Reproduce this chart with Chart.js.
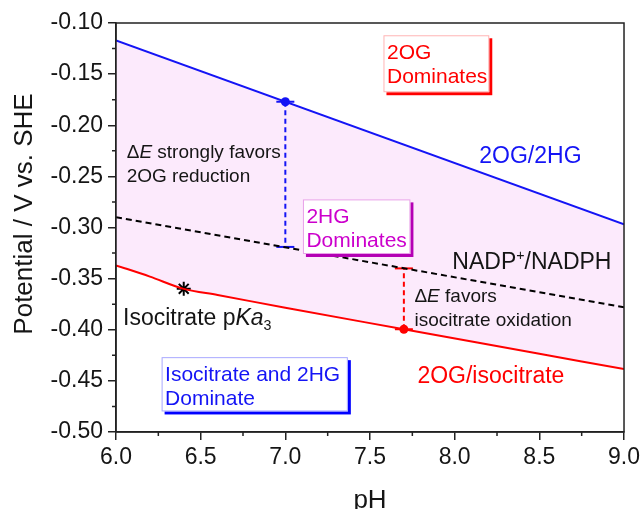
<!DOCTYPE html>
<html><head><meta charset="utf-8">
<script src="https://cdn.jsdelivr.net/npm/chart.js@4/dist/chart.umd.min.js"></script>
<style>html,body{margin:0;padding:0;background:#fff;}canvas{display:block;}</style>
</head><body>
<canvas id="c" width="644" height="509"></canvas>
<script>
// ---- data ----
const blueX = [6.0, 9.0];                 // 2OG/2HG
const blueY = [-0.117, -0.297];
const nadpX = [6.0, 9.0];                 // NADP+/NADPH
const nadpY = [-0.290, -0.378];
const redX = [6.0, 6.2, 6.4, 6.6, 7.0, 7.7, 8.5, 9.0];   // 2OG/isocitrate
const redY = [-0.337, -0.348, -0.360, -0.366, -0.3785, -0.3995, -0.4235, -0.4385];
const barBlueX = [7.0, 7.0];              // ΔE strongly favors 2OG reduction
const barBlueY = [-0.177, -0.319];
const barRedX = [7.7, 7.7];               // ΔE favors isocitrate oxidation
const barRedY = [-0.3995, -0.340];
const pkaX = [6.4];                       // isocitrate pKa3
const pkaY = [-0.360];
const xTickValues = [6.0, 6.5, 7.0, 7.5, 8.0, 8.5, 9.0];
const yTickValues = [-0.50, -0.45, -0.40, -0.35, -0.30, -0.25, -0.20, -0.15, -0.10];
const xMinorTicks = [6.25, 6.75, 7.25, 7.75, 8.25, 8.75];
const yMinorTicks = [-0.475, -0.425, -0.375, -0.325, -0.275, -0.225, -0.175, -0.125];

// ---- styles ----
const FONT = "'Liberation Sans', Arial, Helvetica, sans-serif";
const BLUE = '#1414f5', RED = '#ff0000', INK = '#151515', PINK = 'rgb(252,234,252)';
const pts = (xs, ys) => xs.map((x, i) => ({x: x, y: ys[i]}));

const notes = [
  {x: 8.1453, y: -0.2292, size: 23, color: BLUE, lines: [[{t: '2OG/2HG'}]]},
  {x: 6.0631, y: -0.2260, size: 19, color: INK, lines: [[{t: 'Δ'}, {t: 'E', i: 1}, {t: ' strongly favors'}], [{t: '2OG reduction'}]]},
  {x: 7.9862, y: -0.3324, size: 23, color: INK, lines: [[{t: 'NADP'}, {t: '+', sup: 1}, {t: '/NADPH'}]]},
  {x: 7.7623, y: -0.3659, size: 19, color: INK, lines: [[{t: 'Δ'}, {t: 'E', i: 1}, {t: ' favors'}], [{t: 'isocitrate oxidation'}]]},
  {x: 7.7799, y: -0.4440, size: 23, color: RED, lines: [[{t: '2OG/isocitrate'}]]},
  {x: 6.0413, y: -0.3871, size: 23, color: INK, lines: [[{t: 'Isocitrate p'}, {t: 'Ka', i: 1}, {t: '3', sub: 1}]]}
];
const boxes = [
  {x0: 7.5795, y0: -0.1120, x1: 8.2043, y1: -0.1677, text: ['2OG', 'Dominates'], color: RED, edge: '#ffb4b4', shadow: '#ff0000'},
  {x0: 7.1039, y0: -0.2725, x1: 7.7387, y1: -0.3259, text: ['2HG', 'Dominates'], color: '#cc00cc', edge: '#e8a0e8', shadow: '#b400b4'},
  {x0: 6.2693, y0: -0.4268, x1: 7.3691, y1: -0.4799, text: ['Isocitrate and 2HG', 'Dominate'], color: BLUE, edge: '#a8a8ff', shadow: '#0000ff'}
];

function drawRich(ctx, x, cy, segs, size, color) {
  let cx = x;
  const base = cy + 0.35 * size;
  ctx.fillStyle = color; ctx.textAlign = 'left'; ctx.textBaseline = 'alphabetic';
  for (const s of segs) {
    const small = s.sup || s.sub;
    const fs = small ? size * 0.62 : size;
    ctx.font = (s.i ? 'italic ' : '') + fs + 'px ' + FONT;
    const dy = s.sup ? -0.36 * size : (s.sub ? 0.22 * size : 0);
    ctx.fillText(s.t, cx, base + dy);
    cx += ctx.measureText(s.t).width;
  }
}

const decor = {
  id: 'decor',
  afterDatasetsDraw(chart) {
    const ctx = chart.ctx, xs = chart.scales.x, ys = chart.scales.y;
    ctx.save();
    for (const b of boxes) {
      const l = xs.getPixelForValue(b.x0), r = xs.getPixelForValue(b.x1);
      const t = ys.getPixelForValue(b.y0), btm = ys.getPixelForValue(b.y1);
      ctx.fillStyle = b.shadow; ctx.fillRect(l + 3, t + 3, r - l, btm - t);
      ctx.fillStyle = '#fff'; ctx.fillRect(l, t, r - l, btm - t);
      ctx.strokeStyle = b.edge; ctx.lineWidth = 1; ctx.strokeRect(l + 0.5, t + 0.5, r - l - 1, btm - t - 1);
      b.text.forEach((line, k) => drawRich(ctx, l + 3.5, t + 16 + 24 * k, [{t: line}], 21, b.color));
    }
    for (const n of notes) {
      const px = xs.getPixelForValue(n.x), py = ys.getPixelForValue(n.y);
      n.lines.forEach((segs, k) => drawRich(ctx, px, py + 24 * k, segs, n.size, n.color));
    }
    ctx.restore();
  },
  afterDraw(chart) {
    const ctx = chart.ctx, xs = chart.scales.x, ys = chart.scales.y, a = chart.chartArea;
    ctx.save();
    ctx.strokeStyle = '#222'; ctx.lineWidth = 1.5;
    ctx.beginPath();
    for (const v of xMinorTicks) { const p = xs.getPixelForValue(v); ctx.moveTo(p, a.bottom); ctx.lineTo(p, a.bottom + 4); }
    for (const v of yMinorTicks) { const p = ys.getPixelForValue(v); ctx.moveTo(a.left - 4, p); ctx.lineTo(a.left, p); }
    ctx.stroke();
    ctx.strokeRect(a.left, a.top, a.right - a.left, a.bottom - a.top);
    // y axis title
    ctx.translate(25, ys.getPixelForValue(-0.2868));
    ctx.rotate(-Math.PI / 2);
    ctx.font = '26px ' + FONT; ctx.fillStyle = INK; ctx.textAlign = 'center'; ctx.textBaseline = 'middle';
    ctx.fillText('Potential / V vs. SHE', 0, 0);
    ctx.restore();
  }
};

new Chart(document.getElementById('c'), {
  type: 'line',
  data: {datasets: [
    {label: '2OG/2HG', data: pts(blueX, blueY), borderColor: BLUE, borderWidth: 2, pointRadius: 0,
     backgroundColor: PINK, fill: {target: 2, above: PINK, below: PINK}},
    {label: 'NADP+/NADPH', data: pts(nadpX, nadpY), borderColor: '#000', borderWidth: 2, borderDash: [6, 4], pointRadius: 0, fill: false},
    {label: '2OG/isocitrate', data: pts(redX, redY), borderColor: RED, borderWidth: 2, pointRadius: 0, cubicInterpolationMode: 'monotone', fill: false},
    {label: 'dE blue', data: pts(barBlueX, barBlueY), borderColor: BLUE, borderWidth: 2, borderDash: [5, 3.5], fill: false,
     pointStyle: 'line', pointRadius: 9, pointBorderWidth: 2, pointBorderColor: BLUE},
    {label: 'dot blue', data: pts(barBlueX.slice(0, 1), barBlueY.slice(0, 1)), showLine: false, pointStyle: 'circle',
     pointRadius: 4.5, pointBackgroundColor: BLUE, pointBorderWidth: 0, fill: false},
    {label: 'dE red', data: pts(barRedX, barRedY), borderColor: RED, borderWidth: 2, borderDash: [5, 3.5], fill: false,
     pointStyle: 'line', pointRadius: 9, pointBorderWidth: 2, pointBorderColor: RED},
    {label: 'dot red', data: pts(barRedX.slice(0, 1), barRedY.slice(0, 1)), showLine: false, pointStyle: 'circle',
     pointRadius: 4.5, pointBackgroundColor: RED, pointBorderWidth: 0, fill: false},
    {label: 'pKa3', data: pts(pkaX, pkaY), showLine: false, pointStyle: 'star', pointRadius: 7,
     pointBorderColor: '#000', pointBorderWidth: 2, fill: false}
  ]},
  options: {
    responsive: false, animation: false, devicePixelRatio: 1, events: [],
    layout: {padding: {top: 23, right: 19, left: 0, bottom: 0}},
    plugins: {legend: {display: false}, tooltip: {enabled: false}, filler: {drawTime: 'beforeDatasetsDraw'}},
    scales: {
      x: {type: 'linear', min: 6, max: 9,
        afterBuildTicks: s => { s.ticks = xTickValues.map(v => ({value: v})); },
        afterFit: s => { s.height = 77; },
        ticks: {callback: v => Number(v).toFixed(1), font: {size: 23, family: FONT}, color: INK, padding: 4, maxRotation: 0, autoSkip: false},
        grid: {drawOnChartArea: false, drawTicks: true, tickLength: 8, color: '#222', lineWidth: 1.5},
        border: {display: true, color: '#222', width: 1.5},
        title: {display: true, text: 'pH', color: INK, font: {size: 26, family: FONT, lineHeight: 1}, padding: {top: 0, bottom: -5}}
      },
      y: {type: 'linear', min: -0.5, max: -0.1,
        afterBuildTicks: s => { s.ticks = yTickValues.map(v => ({value: v})); },
        afterFit: s => { s.width = 116; },
        ticks: {callback: v => Number(v).toFixed(2), font: {size: 23, family: FONT}, color: INK, padding: 5, autoSkip: false},
        grid: {drawOnChartArea: false, drawTicks: true, tickLength: 8, color: '#222', lineWidth: 1.5},
        border: {display: true, color: '#222', width: 1.5}
      }
    }
  },
  plugins: [decor]
});
</script>
</body></html>
